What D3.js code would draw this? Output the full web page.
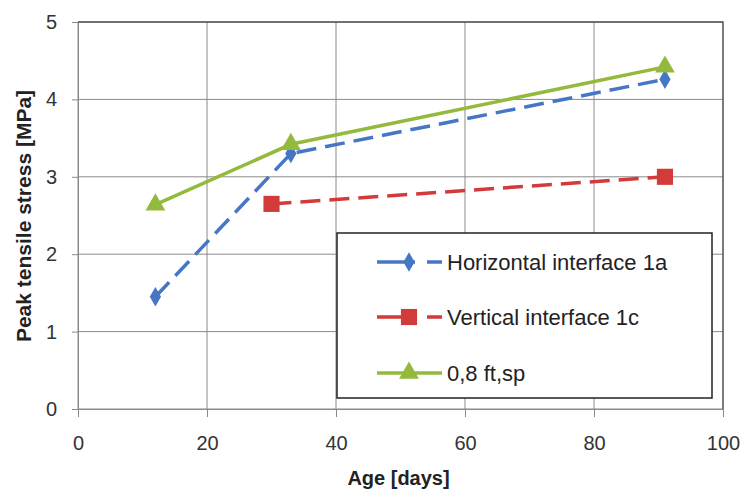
<!DOCTYPE html>
<html><head><meta charset="utf-8">
<script src="https://cdn.jsdelivr.net/npm/d3@7"></script>
<style>body{margin:0;background:#fff}svg{display:block}text{font-family:"Liberation Sans",Arial,sans-serif}</style>
</head><body><svg id="c" width="743" height="493"></svg>
<script>
const xTicks = [0, 20, 40, 60, 80, 100];
const yTicks = [0, 1, 2, 3, 4, 5];
const seriesNames = ["Horizontal interface 1a", "Vertical interface 1c", "0,8 ft,sp"];
const horizAge = [12, 33, 91];
const horizStress = [1.45, 3.3, 4.26];
const vertAge = [30, 91];
const vertStress = [2.65, 3.0];
const ftAge = [12, 33, 91];
const ftStress = [2.64, 3.42, 4.42];
const xTitle = "Age [days]";
const yTitle = "Peak tensile stress [MPa]";

const W = 743, H = 493;
const m = {l: 78, r: 20, t: 22, b: 84};
const svg = d3.select("#c");
const x = d3.scaleLinear().domain([0, 100]).range([m.l, W - m.r]);
const y = d3.scaleLinear().domain([0, 5]).range([H - m.b, m.t]);
const grid = "#8a8a8a";

// grid
svg.append("g").selectAll("line").data(yTicks).join("line")
  .attr("x1", m.l).attr("x2", W - m.r).attr("y1", d => y(d)).attr("y2", d => y(d))
  .attr("stroke", grid).attr("stroke-width", 1);
svg.append("g").selectAll("line").data(xTicks).join("line")
  .attr("y1", m.t).attr("y2", H - m.b).attr("x1", d => x(d)).attr("x2", d => x(d))
  .attr("stroke", grid).attr("stroke-width", 1);

// axes
const xa = svg.append("g").attr("transform", `translate(0,${H - m.b})`)
  .call(d3.axisBottom(x).tickValues(xTicks).tickSize(8).tickPadding(19).tickFormat(d3.format("d")));
const ya = svg.append("g").attr("transform", `translate(${m.l},0)`)
  .call(d3.axisLeft(y).tickValues(yTicks).tickSize(6).tickPadding(15).tickFormat(d3.format("d")));
[xa, ya].forEach(a => {
  a.select(".domain").attr("stroke", grid);
  a.selectAll(".tick line").attr("stroke", grid);
  a.selectAll(".tick text").attr("font-size", 20).attr("fill", "#333")
    .attr("font-family", '"Liberation Sans",Arial,sans-serif');
});
// darker top/right border
svg.append("path").attr("d", `M${m.l},${m.t}H${W - m.r}V${H - m.b}`)
  .attr("fill", "none").attr("stroke", "#555").attr("stroke-width", 1.3);

// titles
svg.append("text").attr("x", x(50) - 2).attr("y", 485).attr("text-anchor", "middle")
  .attr("font-size", 20).attr("font-weight", "bold").attr("fill", "#222").text(xTitle);
svg.append("text").attr("transform", `translate(31,216) rotate(-90)`).attr("text-anchor", "middle")
  .attr("font-size", 21).attr("font-weight", "bold").attr("fill", "#222").text(yTitle);

const colors = ["#4677c6", "#d33a3a", "#93ba3c"];
const line = d3.line().x(d => x(d[0])).y(d => y(d[1]));
const dash = "20,9";

const series = [
  {pts: d3.zip(horizAge, horizStress), c: colors[0], dash: dash, sym: d3.symbolDiamond, size: 110},
  {pts: d3.zip(vertAge, vertStress), c: colors[1], dash: dash, sym: d3.symbolSquare, size: 260},
  {pts: d3.zip(ftAge, ftStress), c: colors[2], dash: null, sym: d3.symbolTriangle, size: 170}
];
series.forEach(s => {
  svg.append("path").datum(s.pts).attr("d", line).attr("fill", "none")
    .attr("stroke", s.c).attr("stroke-width", 3.5).attr("stroke-dasharray", s.dash);
  svg.append("g").selectAll("path").data(s.pts).join("path")
    .attr("transform", d => `translate(${x(d[0])},${y(d[1])})`)
    .attr("d", d3.symbol().type(s.sym).size(s.size)).attr("fill", s.c);
});

// legend
const lg = svg.append("g");
lg.append("rect").attr("x", 337).attr("y", 233).attr("width", 375).attr("height", 165)
  .attr("fill", "#fff").attr("stroke", "#222").attr("stroke-width", 1.5);
const ly = [262, 317, 373];
series.forEach((s, i) => {
  const g = lg.append("g").attr("transform", `translate(0,${ly[i]})`);
  g.append("line").attr("x1", 377).attr("x2", 442).attr("y1", 0).attr("y2", 0)
    .attr("stroke", s.c).attr("stroke-width", 3.5).attr("stroke-dasharray", s.dash ? "38,12,15" : null);
  g.append("path").attr("transform", "translate(409,0)")
    .attr("d", d3.symbol().type(s.sym).size(s.size)).attr("fill", s.c);
  g.append("text").attr("x", 447).attr("y", 8).attr("font-size", 22).attr("fill", "#222").text(seriesNames[i]);
});
</script></body></html>
